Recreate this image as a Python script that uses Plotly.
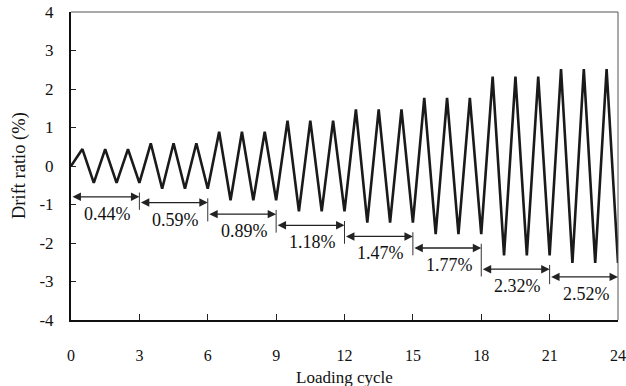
import plotly.graph_objects as go

# ---- data ----
amplitudes = [0.44, 0.59, 0.89, 1.18, 1.47, 1.77, 2.32, 2.52]   # drift ratio (%) per level
level_labels = ["0.44%", "0.59%", "0.89%", "1.18%", "1.47%", "1.77%", "2.32%", "2.52%"]
cycles_per_level = 3
x_ticks = [0, 3, 6, 9, 12, 15, 18, 21, 24]
y_ticks = [4, 3, 2, 1, 0, -1, -2, -3, -4]
y_ticktext = ["4", "3", "2", "1", "0", "-1", "-2", "-3", "-4"]

# build the loading history: start at 0, each cycle = +A at half cycle, -A at full cycle
xs = [0.0]
ys = [0.0]
c = 0
for a in amplitudes:
    for _ in range(cycles_per_level):
        xs.append(c + 0.5); ys.append(a)
        xs.append(c + 1.0); ys.append(-a)
        c += 1

FONT = "Liberation Serif, Times New Roman, serif"
fig = go.Figure()
fig.add_trace(go.Scatter(x=xs, y=ys, mode="lines",
                         line=dict(color="#1a1a1a", width=2.6), hoverinfo="skip"))

arrow_y = [-a - 0.36 for a in amplitudes]
for k, (ay, lab) in enumerate(zip(arrow_y, level_labels)):
    x0 = k * cycles_per_level
    x1 = x0 + cycles_per_level
    fig.add_annotation(x=x1, y=ay, ax=x0, ay=ay, xref="x", yref="y", axref="x", ayref="y",
                       text="", showarrow=True, arrowhead=2, startarrowhead=2,
                       arrowside="end+start", arrowwidth=1.3, arrowsize=1.3,
                       startarrowsize=1.3, arrowcolor="#222222")
    fig.add_annotation(x=x0 + 1.6, y=ay - 0.44, text=lab, showarrow=False,
                       font=dict(family=FONT, size=18, color="#111"))
    if k > 0:
        fig.add_shape(type="line", x0=x0, x1=x0, y0=arrow_y[k - 1] + 0.11, y1=ay - 0.19,
                      xref="x", yref="y", line=dict(color="#333", width=1))

# top & right frame
fig.add_shape(type="line", xref="paper", yref="paper", x0=0, x1=1, y0=1, y1=1,
              line=dict(color="#555", width=1))
fig.add_shape(type="line", xref="paper", yref="paper", x0=1, x1=1, y0=0, y1=1,
              line=dict(color="#555", width=1))

# axis titles
fig.add_annotation(text="Loading cycle", xref="paper", yref="paper", x=0.5, y=0,
                   yshift=-57, xanchor="center", yanchor="middle", showarrow=False,
                   font=dict(family=FONT, size=17, color="#111"))
fig.add_annotation(text="Drift ratio (%)", xref="paper", yref="paper", x=0, y=0.5,
                   xshift=-52, textangle=-90, xanchor="center", yanchor="middle",
                   showarrow=False, font=dict(family=FONT, size=18.5, color="#111"))

fig.update_layout(
    width=626, height=386,
    margin=dict(l=71, r=8, t=12, b=66),
    plot_bgcolor="white", paper_bgcolor="white",
    showlegend=False,
    font=dict(family=FONT, size=16, color="#111"),
    xaxis=dict(range=[0, 24], tickvals=x_ticks, ticks="inside", ticklen=6, tickwidth=1,
               tickcolor="#222", showline=True, linecolor="#111", linewidth=2,
               showgrid=False, zeroline=False, ticklabelstandoff=20, automargin=False),
    yaxis=dict(range=[-4, 4], tickvals=y_ticks, ticktext=y_ticktext, ticks="inside",
               ticklen=5, tickwidth=1, tickcolor="#222", showline=True, linecolor="#111",
               linewidth=2, showgrid=False, zeroline=False, ticklabelstandoff=12,
               automargin=False, tickfont=dict(size=17)),
)

fig.write_html("out.html", config={"displayModeBar": False},
               post_script="document.body.style.margin='0';")
